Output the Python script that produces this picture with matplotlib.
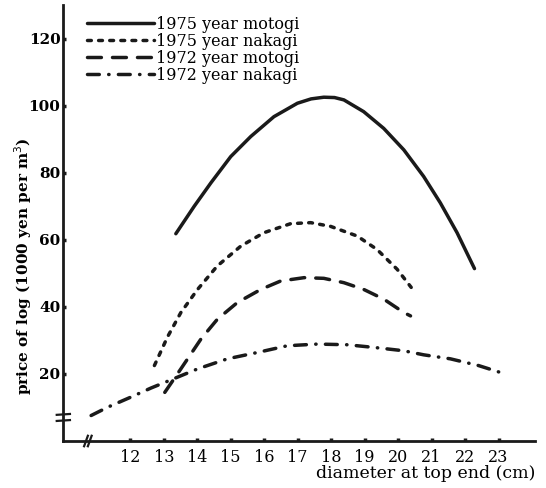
import matplotlib
matplotlib.use("Agg")
import matplotlib.pyplot as plt

# values
diam_75_moto = [13.36, 13.91, 14.41, 15.00, 15.60, 16.29, 16.99, 17.40, 17.78, 18.10, 18.38, 18.97,
                19.57, 20.17, 20.76, 21.26, 21.76, 22.28]
price_75_moto = [61.8, 70.0, 77.0, 84.8, 90.8, 96.7, 100.7, 102.0, 102.5, 102.4, 101.7, 98.2,
                 93.2, 86.8, 78.9, 71.0, 62.1, 51.4]

diam_75_naka = [12.72, 13.11, 13.51, 14.01, 14.60, 15.30, 15.99, 16.79, 17.39, 17.98, 18.78,
                19.37, 19.97, 20.39]
price_75_naka = [22.5, 31.0, 38.3, 45.2, 52.2, 58.1, 62.1, 64.8, 65.1, 64.0, 61.1,
                 57.1, 51.2, 45.8]

diam_72_moto = [13.03, 13.51, 14.11, 14.60, 15.20, 15.90, 16.49, 17.19, 17.78, 18.38, 18.97,
                19.57, 20.17, 20.37]
price_72_moto = [14.5, 21.5, 30.4, 36.3, 41.3, 45.2, 47.7, 48.7, 48.5, 47.2, 45.2,
                 42.3, 38.3, 37.3]

diam_72_naka = [10.83, 11.33, 12.02, 12.62, 13.11, 14.01, 14.90, 15.80, 16.69, 17.59, 18.48,
                19.28, 20.17, 20.76, 21.56, 22.40, 23.13]
price_72_naka = [7.6, 10.1, 13.1, 15.8, 17.8, 21.5, 24.5, 26.4, 28.4, 28.9, 28.7,
                 27.9, 26.9, 25.7, 24.5, 22.5, 20.2]

labels = ["1975 year motogi", "1975 year nakagi", "1972 year motogi", "1972 year nakagi"]
x_ticks = list(range(12, 24))
y_ticks = [20, 40, 60, 80, 100, 120]

plt.rcParams['font.family'] = ['DejaVu Serif']

fig = plt.figure(figsize=(5.46, 4.88), dpi=100)
ax = fig.add_axes([0.116, 0.0963, 0.864, 0.8935])

lw = 2.5
ax.plot(diam_75_moto, price_75_moto, color='#1a1a1a', lw=lw, solid_capstyle='round',
        label=labels[0])
ax.plot(diam_75_naka, price_75_naka, color='#1a1a1a', lw=lw, dash_capstyle='round',
        linestyle=(0, (1.1, 2.1)), label=labels[1])
ax.plot(diam_72_moto, price_72_moto, color='#1a1a1a', lw=lw, dash_capstyle='round',
        linestyle=(0, (4.0, 3.2)), label=labels[2])
ax.plot(diam_72_naka, price_72_naka, color='#1a1a1a', lw=lw, dash_capstyle='round',
        linestyle=(0, (3.4, 2.7, 0.1, 2.7)), label=labels[3])

ax.set_xlim(10, 24.09)
ax.set_ylim(0, 130)
ax.spines[['right', 'top']].set_visible(False)
for s in ['left', 'bottom']:
    ax.spines[s].set_linewidth(2.0)
    ax.spines[s].set_color('#1a1a1a')

ax.set_xticks(x_ticks)
ax.set_yticks(y_ticks)
ax.tick_params(axis='both', direction='in', length=2.5, width=2.5, color='#1a1a1a')
ax.tick_params(axis='x', pad=6, labelsize=11.5)
ax.tick_params(axis='y', pad=2, labelsize=11)
for t in ax.get_yticklabels():
    t.set_fontweight('bold')

ax.set_xlabel("diameter at top end (cm)", fontsize=12.5, ha='right')
ax.xaxis.set_label_coords(1.0, -0.056)
ax.set_ylabel("price of log (1000 yen per m$^3$)", fontsize=11, fontweight='bold')
ax.yaxis.set_label_coords(-0.062, 0.40)

# axis break marks
kw = dict(transform=ax.transAxes, clip_on=False, color='#1a1a1a', lw=1.6)
ax.plot([-0.003, -0.003], [0.047, 0.058], color='white', lw=4, transform=ax.transAxes, clip_on=False)
ax.plot([-0.014, 0.014], [0.046, 0.048], **kw)
ax.plot([-0.014, 0.014], [0.060, 0.062], **kw)
ax.plot([0.048, 0.057], [-0.001, -0.001], color='white', lw=4, transform=ax.transAxes, clip_on=False)
ax.plot([0.044, 0.052], [-0.012, 0.012], **kw)
ax.plot([0.052, 0.060], [-0.012, 0.012], **kw)

ax.legend(loc='upper left', bbox_to_anchor=(0.0496, 0.975), frameon=False,
          fontsize=11.5, handlelength=4.2, handletextpad=0.15, labelspacing=0.0,
          borderaxespad=0, borderpad=0)

fig.savefig("out.png", dpi=100)
